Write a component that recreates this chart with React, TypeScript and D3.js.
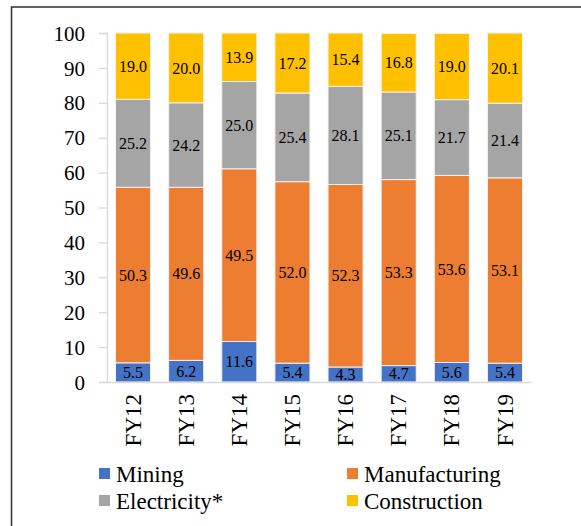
import React, { useEffect, useRef } from "react";
import * as d3 from "d3";

const years = ["FY12", "FY13", "FY14", "FY15", "FY16", "FY17", "FY18", "FY19"];
const mining = [5.5, 6.2, 11.6, 5.4, 4.3, 4.7, 5.6, 5.4];
const manufacturing = [50.3, 49.6, 49.5, 52.0, 52.3, 53.3, 53.6, 53.1];
const electricity = [25.2, 24.2, 25.0, 25.4, 28.1, 25.1, 21.7, 21.4];
const construction = [19.0, 20.0, 13.9, 17.2, 15.4, 16.8, 19.0, 20.1];
const seriesNames = ["Mining", "Manufacturing", "Electricity*", "Construction"];
const colors = ["#4472C4", "#ED7D31", "#A5A5A5", "#FFC000"];
const yTicks = [0, 10, 20, 30, 40, 50, 60, 70, 80, 90, 100];

const FONT = "'Liberation Serif', 'Times New Roman', serif";

export default function App() {
  const svgRef = useRef(null);
  const width = 581;
  const height = 526;

  useEffect(() => {
    const svg = d3.select(svgRef.current);
    svg.selectAll("*").remove();

    // outer frame (right/bottom edges run off the picture)
    svg
      .append("rect")
      .attr("x", 11.5)
      .attr("y", 7)
      .attr("width", 600)
      .attr("height", 600)
      .attr("fill", "none")
      .attr("stroke", "#3a3a3a")
      .attr("stroke-width", 1.6);

    const values = [mining, manufacturing, electricity, construction];
    const rows = years.map((yr, i) => {
      const r: any = { year: yr };
      seriesNames.forEach((s, k) => (r[s] = values[k][i]));
      return r;
    });
    const stacked = d3.stack().keys(seriesNames)(rows);

    const x = d3.scaleBand().domain(years).range([107, 531]).paddingInner(0.34).paddingOuter(0.16);
    const y = d3.scaleLinear().domain([0, 100]).range([382, 33]);

    // y axis
    const yAxis = svg
      .append("g")
      .attr("transform", "translate(107,0)")
      .call(d3.axisLeft(y).tickValues(yTicks).tickSize(8).tickPadding(14));
    yAxis.attr("font-family", null).attr("font-size", null);
    yAxis.select(".domain").attr("stroke", "#d9d9d9").attr("stroke-width", 1.3);
    yAxis.selectAll(".tick line").attr("stroke", "#d9d9d9").attr("stroke-width", 1.3);
    yAxis
      .selectAll(".tick text")
      .style("font-family", FONT)
      .style("font-size", "21px")
      .attr("fill", "#000")
      .attr("dy", "0.34em");

    // bars
    const layers = svg
      .selectAll(".layer")
      .data(stacked)
      .enter()
      .append("g")
      .attr("fill", (_d, i) => colors[i]);

    layers
      .selectAll("rect")
      .data((d) => d)
      .enter()
      .append("rect")
      .attr("x", (d: any) => x(d.data.year) as number)
      .attr("width", x.bandwidth())
      .attr("y", (d) => y(Math.min(d[1], 100)))
      .attr("height", (d) => y(d[0]) - y(Math.min(d[1], 100)))
      .attr("stroke", "#f2f2f2")
      .attr("stroke-width", 1);

    layers
      .selectAll("text")
      .data((d) => d.map((v) => ({ v, key: d.key })))
      .enter()
      .append("text")
      .attr("x", (d: any) => (x(d.v.data.year) as number) + x.bandwidth() / 2)
      .attr("y", (d: any) => y((d.v[0] + Math.min(d.v[1], 100)) / 2))
      .attr("dy", "0.35em")
      .attr("text-anchor", "middle")
      .style("font-family", FONT)
      .style("font-size", "16px")
      .attr("fill", "#000")
      .text((d: any) => d.v.data[d.key].toFixed(1));

    // x axis
    const xAxis = svg
      .append("g")
      .attr("transform", "translate(0,382)")
      .call(d3.axisBottom(x).tickSize(0).tickPadding(0));
    xAxis.attr("font-family", null).attr("font-size", null);
    xAxis.select(".domain").attr("stroke", "#d9d9d9").attr("stroke-width", 1.3);
    xAxis
      .selectAll(".tick text")
      .style("font-family", FONT)
      .style("font-size", "23px")
      .attr("fill", "#000")
      .attr("text-anchor", "end")
      .attr("transform", "translate(0,12) rotate(-90)")
      .attr("dy", "0.33em")
      .attr("y", 0)
      .attr("x", 0);

    // legend
    const legendPos = [
      [99, 468],
      [347, 468],
      [99, 495],
      [347, 495],
    ];
    seriesNames.forEach((name, i) => {
      const [lx, ly] = legendPos[i];
      svg
        .append("rect")
        .attr("x", lx)
        .attr("y", ly)
        .attr("width", 11)
        .attr("height", 11)
        .attr("fill", colors[i]);
      svg
        .append("text")
        .attr("x", lx + 17)
        .attr("y", ly + 14)
        .style("font-family", FONT)
        .style("font-size", "23px")
        .attr("fill", "#000")
        .text(name);
    });
  }, []);

  return (
    <svg
      ref={svgRef}
      width={width}
      height={height}
      style={{ position: "absolute", left: 0, top: 0, background: "#fff" }}
    ></svg>
  );
}
